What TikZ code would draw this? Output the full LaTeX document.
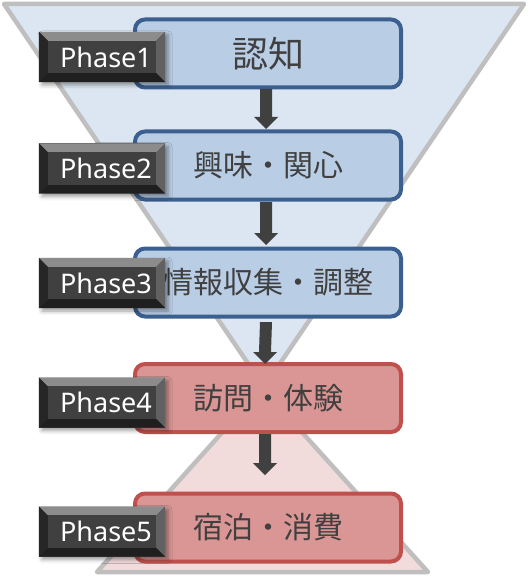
\documentclass[tikz,border=0pt]{standalone}
\usepackage{fontspec}
\setmainfont{Noto Sans}
\newfontfamily\jpfont{Noto Sans CJK JP}
\usetikzlibrary{shadows.blur,calc}
\definecolor{funblue}{HTML}{DCE6F2}
\definecolor{funred}{HTML}{F2DCDB}
\definecolor{funline}{HTML}{BFBFBF}
\definecolor{boxblue}{HTML}{B9CDE5}
\definecolor{edgeblue}{HTML}{3B5F8E}
\definecolor{boxred}{HTML}{D99694}
\definecolor{edgered}{HTML}{C0504D}
\definecolor{txtgray}{HTML}{404040}
\definecolor{arrgray}{HTML}{404040}
\tikzset{
  funnel/.style={draw=funline,line width=4.5pt,line join=round},
  stagebox/.style={rounded corners=10pt,line width=4pt,minimum width=266pt,minimum height=68pt,inner sep=0pt,text=txtgray,font=\jpfont\fontsize{30}{30}\selectfont},
  bluebox/.style={stagebox,fill=boxblue,draw=edgeblue},
  redbox/.style={stagebox,fill=boxred,draw=edgered},
  phaselabel/.style={fill=black!72,minimum width=126pt,minimum height=50pt,inner sep=0pt,text=white,font=\fontsize{27}{27}\selectfont,blur shadow={shadow xshift=3pt,shadow yshift=-3pt,shadow blur radius=4pt,shadow opacity=40}},
  flowarrow/.style={fill=arrgray}
}
\newcommand{\blockarrow}[2]{%
  \fill[flowarrow] ($(#1)+(-6,0)$) -- ($(#2)+(-6,-12)$) -- ($(#2)+(-12,-12)$) -- (#2) -- ($(#2)+(12,-12)$) -- ($(#2)+(6,-12)$) -- ($(#1)+(6,0)$) -- cycle;}
\newcommand{\bevel}[1]{%
  \fill[black!45] (#1.north west) -- (#1.north east) -- ($(#1.north east)+(-9,9)$) -- ($(#1.north west)+(9,9)$) -- cycle;
  \fill[black!85] (#1.north west) -- (#1.south west) -- ($(#1.south west)+(9,-9)$) -- ($(#1.north west)+(9,9)$) -- cycle;
  \fill[black!62] (#1.north east) -- (#1.south east) -- ($(#1.south east)+(-9,-9)$) -- ($(#1.north east)+(-9,9)$) -- cycle;
  \fill[black!88] (#1.south west) -- (#1.south east) -- ($(#1.south east)+(-9,-9)$) -- ($(#1.south west)+(9,-9)$) -- cycle;
  \fill[black!75] ($(#1.north west)+(9,9)$) rectangle ($(#1.south east)+(-9,-9)$);}
\begin{document}
\begin{tikzpicture}[x=1pt,y=-1pt]
\useasboundingbox (0,0) rectangle (531,577);
% funnel shapes
\coordinate (tl) at (4,4);
\coordinate (tr) at (524,4);
\coordinate (apex) at (264,387);
\coordinate (bl) at (97,572);
\coordinate (br) at (428,572);
\coordinate (apexb) at (262,388);
\filldraw[funnel,fill=funred] (bl) -- (br) -- (apexb) -- cycle;
\filldraw[funnel,fill=funblue] (tl) -- (tr) -- (apex) -- cycle;
% boxes
\node[bluebox] (s1) at (268,53.5) {\fontsize{36}{36}\selectfont 認知};
\node[bluebox] (s2) at (268,165.5) {興味・関心};
\node[bluebox] (s3) at (268,282.5) {情報収集・調整};
\node[redbox] (s4) at (268,398) {訪問・体験};
\node[redbox] (s5) at (268,527.5) {宿泊・消費};
% arrows
\coordinate (a1s) at (266,89);   \coordinate (a1e) at (266,129);
\coordinate (a2s) at (266,202);  \coordinate (a2e) at (266,245);
\coordinate (a3s) at (266,322);  \coordinate (a3e) at (265,364);
\coordinate (a4s) at (265,434);  \coordinate (a4e) at (265,475);
\blockarrow{a1s}{a1e}
\blockarrow{a2s}{a2e}
\blockarrow{a3s}{a3e}
\blockarrow{a4s}{a4e}
% phase labels
\foreach \i/\y in {1/57,2/168.5,3/283,4/402.5,5/531.5}{
  \node[phaselabel] (p\i) at (102,\y) {};
  \bevel{p\i}
  \node[text=white,font=\fontsize{27}{27}\selectfont,inner sep=0pt] (pt\i) at (106,\y) {Phase\i};
}
\end{tikzpicture}
\end{document}
